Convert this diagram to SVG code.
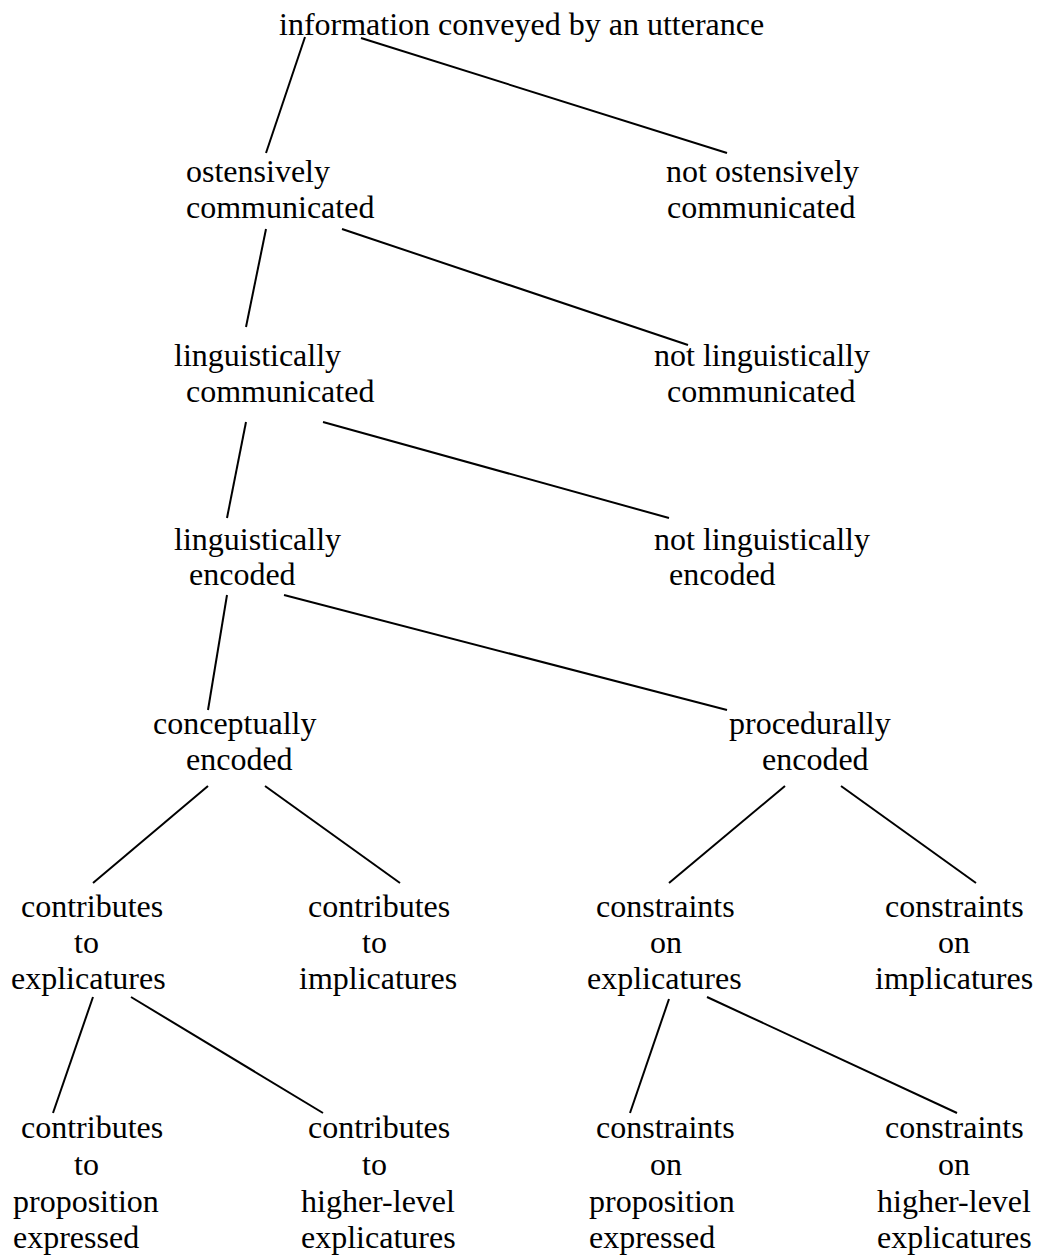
<svg xmlns="http://www.w3.org/2000/svg" width="1037" height="1256" viewBox="0 0 1037 1256">
<style>
text{font-family:"Liberation Serif","Times New Roman",serif;font-size:32px;fill:#000}
.c line{stroke:#000;stroke-width:2;stroke-linecap:butt}
</style>
<rect width="1037" height="1256" fill="#fff"/>
<g class="c" id="connectors">
<line x1="305" y1="37" x2="266" y2="153"/>
<line x1="361" y1="38" x2="727" y2="153"/>
<line x1="266" y1="229" x2="246" y2="327"/>
<line x1="342" y1="229" x2="688" y2="345"/>
<line x1="246" y1="422" x2="227" y2="518"/>
<line x1="323" y1="422" x2="669" y2="518"/>
<line x1="227" y1="595" x2="208" y2="710"/>
<line x1="284" y1="595" x2="727" y2="710"/>
<line x1="208" y1="786" x2="93" y2="883"/>
<line x1="265" y1="786" x2="400" y2="883"/>
<line x1="785" y1="786" x2="669" y2="883"/>
<line x1="841" y1="786" x2="976" y2="883"/>
<line x1="93" y1="997" x2="53" y2="1113"/>
<line x1="131" y1="997" x2="323" y2="1113"/>
<line x1="669" y1="999" x2="630" y2="1113"/>
<line x1="707" y1="997" x2="957" y2="1113"/>
</g>
<g id="n-info"><text x="279" y="35">information conveyed by an utterance</text></g>
<g id="n-ost"><text x="186" y="182">ostensively</text><text x="186" y="218">communicated</text></g>
<g id="n-notost"><text x="666" y="182">not ostensively</text><text x="667" y="218">communicated</text></g>
<g id="n-lingcomm"><text x="174" y="366">linguistically</text><text x="186" y="402">communicated</text></g>
<g id="n-notlingcomm"><text x="654" y="366">not linguistically</text><text x="667" y="402">communicated</text></g>
<g id="n-lingenc"><text x="174" y="550">linguistically</text><text x="189" y="585">encoded</text></g>
<g id="n-notlingenc"><text x="654" y="550">not linguistically</text><text x="669" y="585">encoded</text></g>
<g id="n-concept"><text x="153" y="734">conceptually</text><text x="186" y="770">encoded</text></g>
<g id="n-proc"><text x="729" y="734">procedurally</text><text x="762" y="770">encoded</text></g>
<g id="n-ctexp"><text x="21" y="917">contributes</text><text x="74" y="953">to</text><text x="11" y="989">explicatures</text></g>
<g id="n-ctimp"><text x="308" y="917">contributes</text><text x="362" y="953">to</text><text x="299" y="989">implicatures</text></g>
<g id="n-coexp"><text x="596" y="917">constraints</text><text x="650" y="953">on</text><text x="587" y="989">explicatures</text></g>
<g id="n-coimp"><text x="885" y="917">constraints</text><text x="938" y="953">on</text><text x="875" y="989">implicatures</text></g>
<g id="n-ctprop"><text x="21" y="1138">contributes</text><text x="74" y="1175">to</text><text x="13" y="1212">proposition</text><text x="13" y="1248">expressed</text></g>
<g id="n-cthigh"><text x="308" y="1138">contributes</text><text x="362" y="1175">to</text><text x="301" y="1212">higher-level</text><text x="301" y="1248">explicatures</text></g>
<g id="n-coprop"><text x="596" y="1138">constraints</text><text x="650" y="1175">on</text><text x="589" y="1212">proposition</text><text x="589" y="1248">expressed</text></g>
<g id="n-cohigh"><text x="885" y="1138">constraints</text><text x="938" y="1175">on</text><text x="877" y="1212">higher-level</text><text x="877" y="1248">explicatures</text></g>
</svg>
